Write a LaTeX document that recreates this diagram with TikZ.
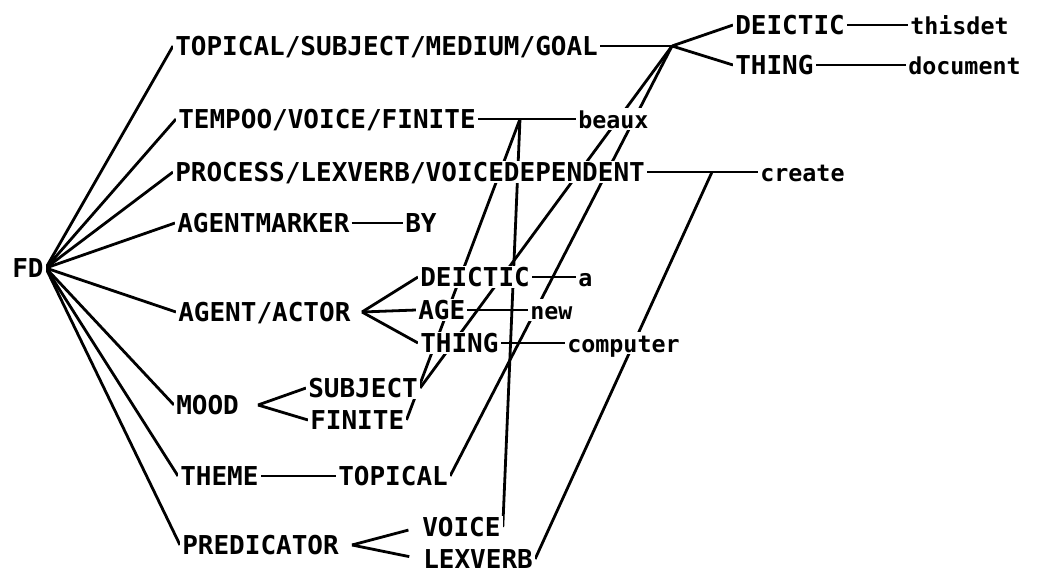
\documentclass[tikz,border=0pt]{standalone}
\usepackage{fontspec}
\newfontfamily\fdfont{DejaVu Sans Mono}
\usetikzlibrary{backgrounds}

\begin{document}
\begin{tikzpicture}[x=0.75pt,y=-0.75pt,
  feat/.style={anchor=west,fill=white,inner sep=1.5pt,text height=14.2pt,text depth=0pt,
    font=\fdfont\bfseries\fontsize{19.5pt}{20pt}\selectfont},
  lex/.style={feat,font=\fdfont\bfseries\fontsize{17.5pt}{18pt}\selectfont},
  conn/.style={line width=2.1pt}]
\useasboundingbox (0,0) rectangle (1043,575);

\node[feat] (fd) at (10,268) {FD};

\node[feat] (tsmg) at (173,46) {TOPICAL/SUBJECT/MEDIUM/GOAL};
\node[feat] (tvf) at (176,119) {TEMPOO/VOICE/FINITE};
\node[feat] (plv) at (173,172) {PROCESS/LEXVERB/VOICEDEPENDENT};
\node[feat] (amark) at (175,223) {AGENTMARKER};
\node[feat] (agent) at (176,312) {AGENT/ACTOR};
\node[feat] (mood) at (174,405) {MOOD};
\node[feat] (theme) at (178,476) {THEME};
\node[feat] (pred) at (180,545) {PREDICATOR};

\node[feat] (gdeic) at (733,25) {DEICTIC};
\node[feat] (gthing) at (733,65) {THING};
\node[feat] (by) at (403,223) {BY};
\node[feat] (adeic) at (418,277) {DEICTIC};
\node[feat] (age) at (416,310) {AGE};
\node[feat] (athing) at (418,343) {THING};
\node[feat] (subj) at (306,388) {SUBJECT};
\node[feat] (fin) at (308,420) {FINITE};
\node[feat] (topical) at (336,476) {TOPICAL};
\node[feat] (voice) at (420,527) {VOICE};
\node[feat] (lexverb) at (421,559) {LEXVERB};

\node[lex] (thisdet) at (908,25) {thisdet};
\node[lex] (document) at (906,65) {document};
\node[lex] (beaux) at (576,119) {beaux};
\node[lex] (create) at (758,172) {create};
\node[lex] (a) at (576,277) {a};
\node[lex] (new) at (528,310) {new};
\node[lex] (computer) at (565,343) {computer};

\coordinate (j1) at (672,46);
\coordinate (jbeaux) at (520,119);
\coordinate (jcreate) at (712,172);
\coordinate (agentfork) at (362,312);
\coordinate (moodfork) at (258,405);
\coordinate (predfork) at (352,545);

\begin{scope}[on background layer]
\foreach \f in {tsmg,tvf,plv,amark,agent,mood,theme,pred}
  \draw[conn] (fd.east) -- (\f.west);

\draw[conn] (tsmg.east) -- (j1);
\draw[conn] (j1) -- (gdeic.west);
\draw[conn] (j1) -- (gthing.west);
\draw[conn] (gdeic.east) -- (thisdet.west);
\draw[conn] (gthing.east) -- (document.west);
\draw[conn] (tvf.east) -- (beaux.west);
\draw[conn] (plv.east) -- (create.west);
\draw[conn] (amark.east) -- (by.west);

\draw[conn] (agentfork) -- (adeic.west);
\draw[conn] (agentfork) -- (age.west);
\draw[conn] (agentfork) -- (athing.west);
\draw[conn] (adeic.east) -- (a.west);
\draw[conn] (age.east) -- (new.west);
\draw[conn] (athing.east) -- (computer.west);

\draw[conn] (moodfork) -- (subj.west);
\draw[conn] (moodfork) -- (fin.west);
\draw[conn] (theme.east) -- (topical.west);
\draw[conn,shorten >=9pt] (predfork) -- (voice.west);
\draw[conn,shorten >=9pt] (predfork) -- (lexverb.west);

\draw[conn] (subj.east) -- (j1);
\draw[conn] (topical.east) -- (j1);
\draw[conn] (fin.east) -- (jbeaux);
\draw[conn] (voice.east) -- (jbeaux);
\draw[conn] (lexverb.east) -- (jcreate);
\end{scope}

\end{tikzpicture}
\end{document}
